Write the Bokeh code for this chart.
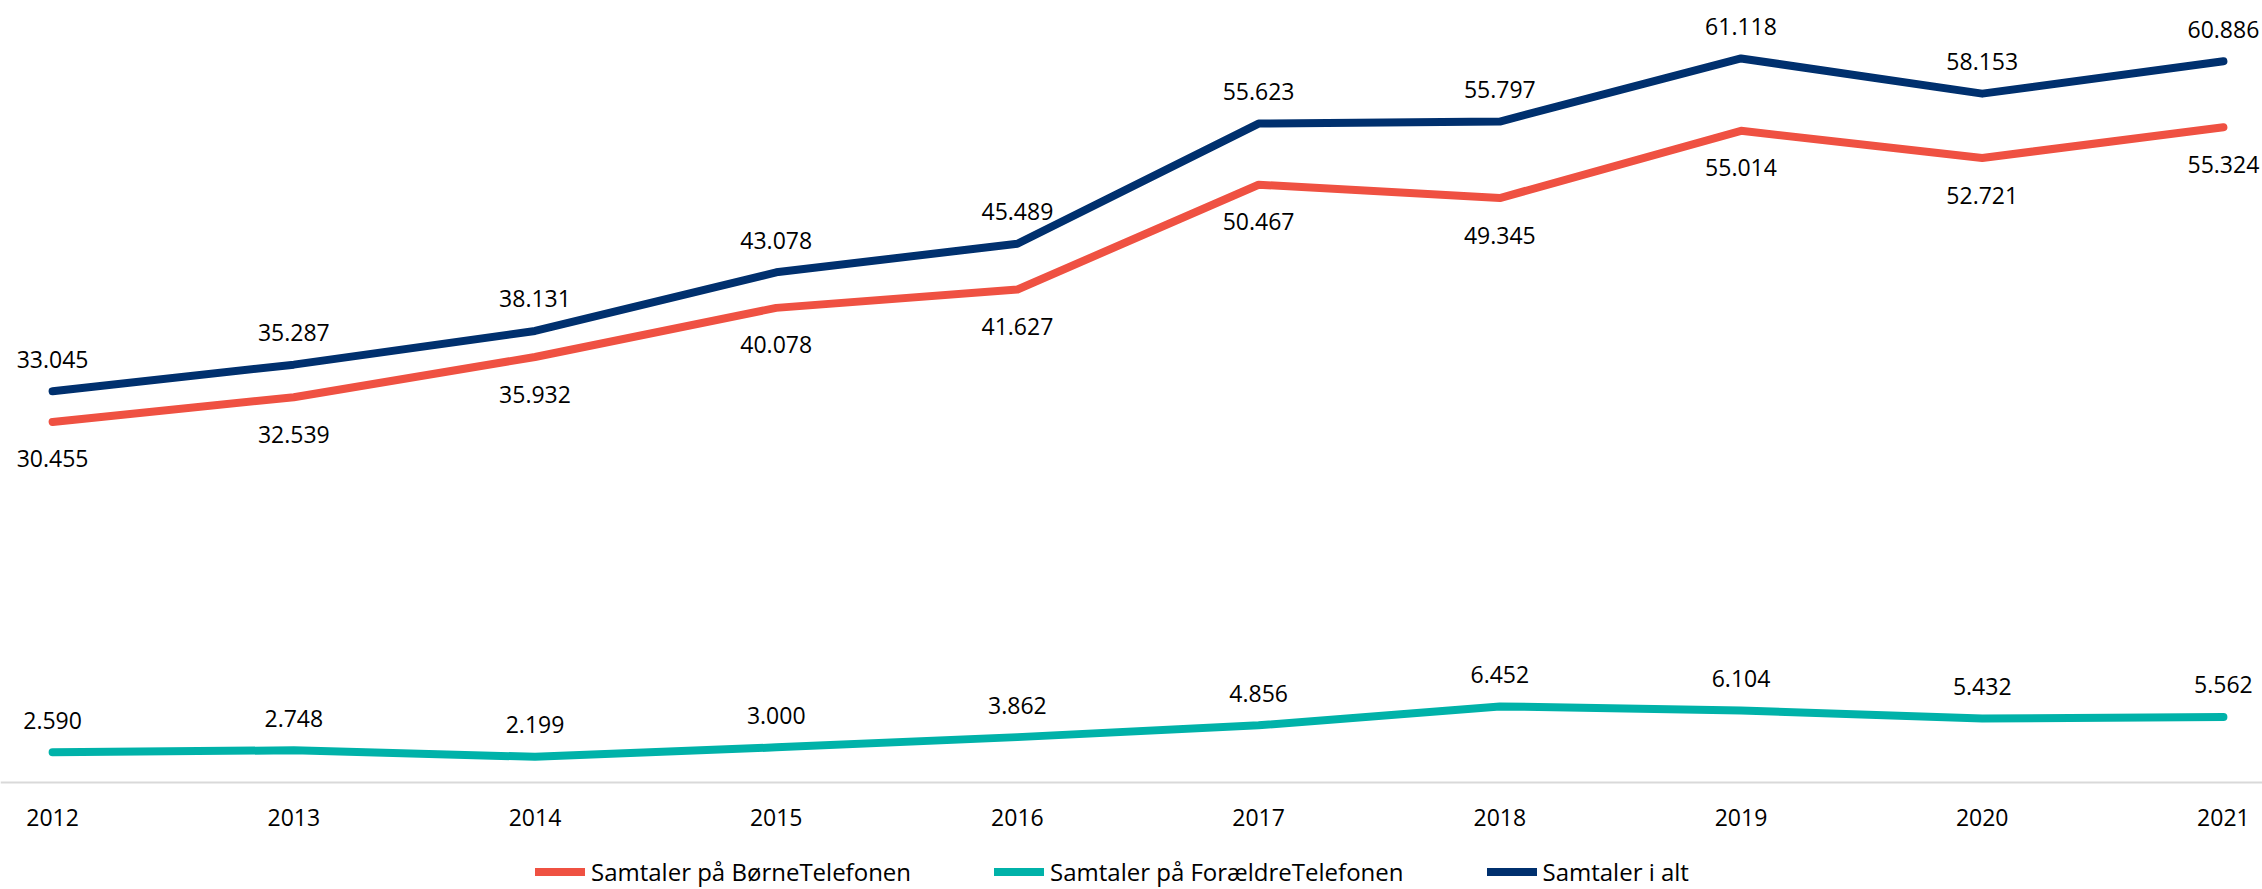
from bokeh.plotting import figure
from bokeh.models import Range1d, FixedTicker, Legend, LegendItem
from bokeh.embed import file_html
from bokeh.resources import INLINE
from bokeh.core.properties import value

years = [2012, 2013, 2014, 2015, 2016, 2017, 2018, 2019, 2020, 2021]
boerne = [30455, 32539, 35932, 40078, 41627, 50467, 49345, 55014, 52721, 55324]
foraeldre = [2590, 2748, 2199, 3000, 3862, 4856, 6452, 6104, 5432, 5562]
total = [33045, 35287, 38131, 43078, 45489, 55623, 55797, 61118, 58153, 60886]
series_names = ["Samtaler på BørneTelefonen", "Samtaler på ForældreTelefonen", "Samtaler i alt"]

RED = "#EF5142"
TEAL = "#00B2A9"
NAVY = "#00306E"
FONT = "Open Sans"


def fmt(v):
    return f"{v:,}".replace(",", ".")


p = figure(width=2262, height=889, output_backend="svg", toolbar_location=None,
           x_range=Range1d(2011.784, 2021.162), y_range=Range1d(-8994, 66010),
           min_border_left=0, min_border_right=0, min_border_top=0,
           min_border_bottom=0, y_axis_location=None)
p.outline_line_color = None
p.grid.visible = False
p.background_fill_color = "white"
p.border_fill_color = "white"

ax = p.xaxis[0]
ax.fixed_location = 0
ax.ticker = FixedTicker(ticks=years)
ax.major_tick_line_color = None
ax.minor_tick_line_color = None
ax.axis_line_color = "#D9D9D9"
ax.axis_line_width = 2
ax.major_label_standoff = 20
ax.major_label_text_font = FONT
ax.major_label_text_font_size = "23px"
ax.major_label_text_color = "#000000"

r_red = p.line(years, boerne, line_width=8, line_color=RED, line_cap="round", line_join="round")
r_teal = p.line(years, foraeldre, line_width=8, line_color=TEAL, line_cap="round", line_join="round")
r_navy = p.line(years, total, line_width=8, line_color=NAVY, line_cap="round", line_join="round")

for vals, off in ((total, -32), (boerne, 37), (foraeldre, -32)):
    p.text(x=years, y=vals, text=[fmt(v) for v in vals], text_align="center",
           text_baseline="middle", y_offset=off, text_font=value(FONT),
           text_font_size="23px", text_color="#000000")

legend = Legend(items=[LegendItem(label=series_names[0], renderers=[r_red]),
                       LegendItem(label=series_names[1], renderers=[r_teal]),
                       LegendItem(label=series_names[2], renderers=[r_navy])],
                orientation="horizontal", location=(535, 1), padding=0, margin=0,
                spacing=83, glyph_width=50, glyph_height=31, label_standoff=6,
                label_text_font=FONT, label_text_font_size="24px",
                label_text_color="#000000", border_line_color=None,
                background_fill_alpha=0)
p.add_layout(legend)

open("out.html", "w").write(file_html(p, INLINE))
